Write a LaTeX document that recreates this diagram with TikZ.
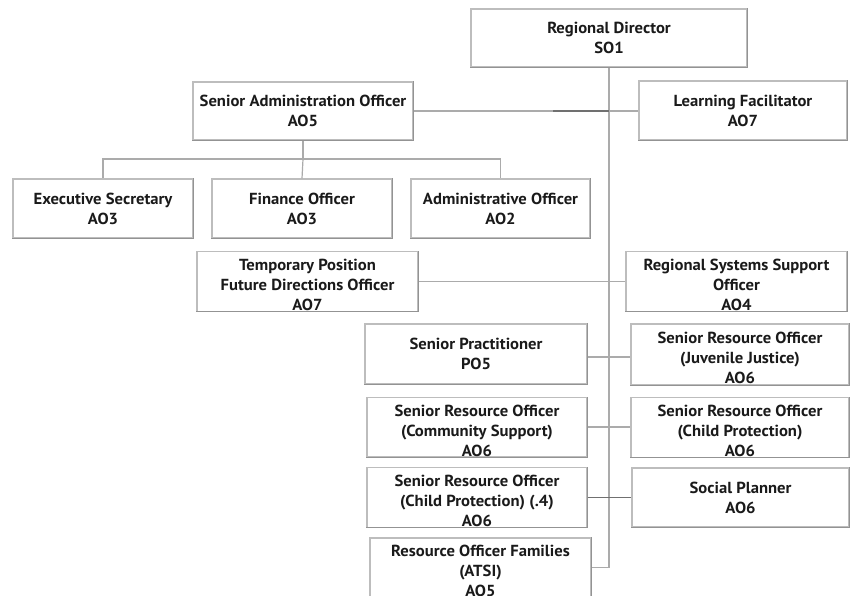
\documentclass[tikz,border=0pt]{standalone}
\usepackage{fontspec}
\setmainfont{PT Sans}[FakeStretch=1.04]
\definecolor{txt}{HTML}{1A1A1A}
\definecolor{boxline}{HTML}{BDBDBD}
\definecolor{boxshade}{HTML}{939393}
\definecolor{conn}{HTML}{ABABAB}
\definecolor{connd}{HTML}{707070}
\newcommand{\up}{\rule{0pt}{19pt}}
\begin{document}
\begin{tikzpicture}[x=1pt,y=-1pt,
  box/.style={draw=boxline, line width=1.2pt, align=center, inner sep=0pt,
    text=txt, font=\fontsize{16}{20}\selectfont\bfseries},
  shadeline/.style={draw=boxshade, line width=1.4pt},
  link/.style={draw=conn, line width=1.2pt},
  darklink/.style={draw=connd, line width=1.1pt}]
\useasboundingbox (0,0) rectangle (850,595);
\clip (0,0) rectangle (850,595);

% boxes
\node[box, minimum width=276pt, minimum height=58pt] (rd) at (609,38) {Regional Director\\SO1};
\node[box, minimum width=220pt, minimum height=58pt] (sao) at (303,111) {Senior Administration Officer\\AO5};
\node[box, minimum width=208pt, minimum height=59pt] (lf) at (743,110.5) {Learning Facilitator\\AO7};
\node[box, minimum width=180pt, minimum height=59pt] (es) at (103,208.5) {Executive Secretary\\AO3};
\node[box, minimum width=180pt, minimum height=59pt] (fo) at (302,208.5) {Finance Officer\\AO3};
\node[box, minimum width=179pt, minimum height=59pt] (ao) at (500.5,208.5) {Administrative Officer\\AO2};
\node[box, minimum width=221pt, minimum height=59pt] (tp) at (307.5,281.5) {\up Temporary Position\\Future Directions Officer\\AO7};
\node[box, minimum width=221pt, minimum height=59pt] (rss) at (736.5,281.5) {\up Regional Systems Support\\Officer\\AO4};
\node[box, minimum width=222pt, minimum height=60pt] (sp) at (476,354) {Senior Practitioner\\PO5};
\node[box, minimum width=218pt, minimum height=61pt] (srojj) at (740,354.5) {\up Senior Resource Officer\\(Juvenile Justice)\\AO6};
\node[box, minimum width=220pt, minimum height=58pt] (srocs) at (477,427) {\up Senior Resource Officer\\(Community Support)\\AO6};
\node[box, minimum width=218pt, minimum height=59pt] (srocp) at (740,427.5) {\up Senior Resource Officer\\(Child Protection)\\AO6};
\node[box, minimum width=220pt, minimum height=59pt] (srocpf) at (477,497.5) {\up Senior Resource Officer\\(Child Protection) (.4)\\AO6};
\node[box, minimum width=217pt, minimum height=59pt] (spl) at (740.5,497.5) {Social Planner\\AO6};
\node[box, minimum width=221pt, minimum height=59pt] (rof) at (480.5,567.5) {\up Resource Officer Families\\(ATSI)\\AO5};

% shading on bottom and right edges
\foreach \n in {rd,sao,lf,es,fo,ao,tp,rss,sp,srojj,srocs,srocp,srocpf,spl,rof}
  \draw[shadeline] (\n.south west) -- (\n.south east) -- (\n.north east);

% connectors
\coordinate (bus) at (303,159);
\draw[link] (rd.south) |- (rof.east);
\draw[link] (sao.east) -- (sao.east -| lf.west);
\draw[darklink] (553,111) -- (rd.south |- sao.east);
\draw[link] (sao.south) -- (bus);
\draw[link] (es.north) |- (bus) -| (ao.north);
\draw[link] (bus) -- (fo.north);
\draw[link] (tp.east) -- (rss.west);
\draw[link] ([yshift=-3pt]sp.east) -- ([yshift=-3pt]sp.east -| srojj.west);
\draw[link] (srocs.east) -- (srocs.east -| srocp.west);
\draw[darklink] (srocpf.east) -- (spl.west);
\end{tikzpicture}
\end{document}
